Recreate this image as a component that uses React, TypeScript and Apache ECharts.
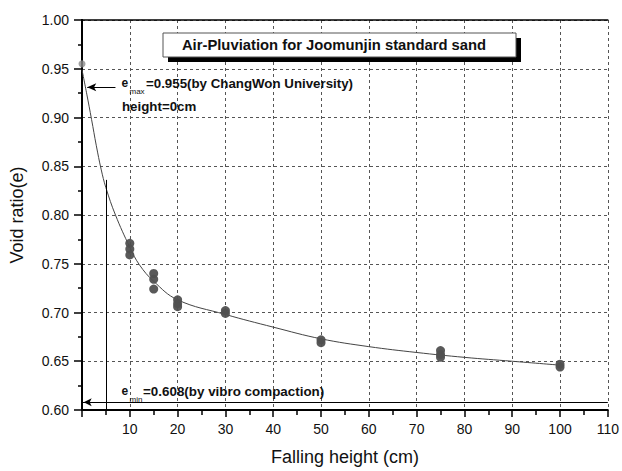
import React, { useEffect, useRef } from "react";
import * as echarts from "echarts";

const heights = [10, 10, 10, 15, 15, 15, 20, 20, 20, 30, 30, 50, 50, 75, 75, 75, 100, 100];
const voidRatios = [0.771, 0.765, 0.759, 0.740, 0.734, 0.724, 0.713, 0.709, 0.706, 0.702, 0.699, 0.672, 0.669, 0.661, 0.657, 0.654, 0.647, 0.644];

const eMaxPoint = [0, 0.955];
const eMin = 0.608;

const curveX = [0, 1, 2, 3, 4, 5, 7, 10, 12, 15, 20, 30, 40, 50, 60, 70, 80, 90, 100];
const curveY = [0.949, 0.924, 0.898, 0.871, 0.847, 0.828, 0.800, 0.767, 0.749, 0.732, 0.713, 0.698, 0.685, 0.673, 0.665, 0.659, 0.654, 0.650, 0.646];

const xTicks = { min: 0, max: 110, interval: 10 };
const yTicks = { min: 0.6, max: 1.0, interval: 0.05 };

const titleText = "Air-Pluviation for Joomunjin standard sand";
const xName = "Falling height (cm)";
const yName = "Void ratio(e)";

export default function App() {
  const ref = useRef<HTMLDivElement>(null);
  useEffect(() => {
    if (!ref.current) return;
    const chart = echarts.init(ref.current, null, { renderer: "svg" });
    const font = "Liberation Sans, Arial, sans-serif";
    const bold = { fontFamily: font, fontWeight: "bold" as const, fill: "#111" };
    chart.setOption({
      animation: false,
      backgroundColor: "#fff",
      grid: { left: 79, right: 14, top: 20, bottom: 61, containLabel: false },
      xAxis: [
        {
          type: "value",
          min: xTicks.min,
          max: xTicks.max,
          interval: xTicks.interval,
          name: xName,
          nameLocation: "middle",
          nameGap: 38,
          nameTextStyle: { fontFamily: font, fontSize: 18, color: "#111" },
          axisLine: { show: true, onZero: false, lineStyle: { color: "#000", width: 2 } },
          axisTick: { show: true, inside: false, length: 7, lineStyle: { color: "#000", width: 1.5 } },
          minorTick: { show: true, splitNumber: 2, length: 5, lineStyle: { color: "#000", width: 1.5 } },
          axisLabel: {
            fontFamily: font,
            fontSize: 14,
            color: "#111",
            margin: 12,
            formatter: (v: number) => (v === 0 ? "" : String(v)),
          },
          splitLine: { show: true, lineStyle: { color: "#555", type: [3, 3], width: 1 } },
        },
        {
          type: "value",
          position: "top",
          min: xTicks.min,
          max: xTicks.max,
          axisLine: { show: true, lineStyle: { color: "#000", width: 1.5 } },
          axisTick: { show: false },
          axisLabel: { show: false },
          splitLine: { show: false },
        },
      ],
      yAxis: [
        {
          type: "value",
          min: yTicks.min,
          max: yTicks.max,
          interval: yTicks.interval,
          name: yName,
          nameLocation: "middle",
          nameGap: 56,
          nameTextStyle: { fontFamily: font, fontSize: 18, color: "#111" },
          axisLine: { show: true, onZero: false, lineStyle: { color: "#000", width: 2 } },
          axisTick: { show: true, inside: false, length: 8, lineStyle: { color: "#000", width: 1.5 } },
          minorTick: { show: true, splitNumber: 2, length: 4, lineStyle: { color: "#000", width: 1.5 } },
          axisLabel: {
            fontFamily: font,
            fontSize: 14,
            color: "#111",
            margin: 13,
            formatter: (v: number) => v.toFixed(2),
          },
          splitLine: { show: true, lineStyle: { color: "#555", type: [3, 3], width: 1 } },
        },
        {
          type: "value",
          position: "right",
          min: yTicks.min,
          max: yTicks.max,
          axisLine: { show: true, lineStyle: { color: "#000", width: 2 } },
          axisTick: { show: false },
          axisLabel: { show: false },
          splitLine: { show: false },
        },
      ],
      series: [
        {
          type: "line",
          data: curveX.map((x, i) => [x, curveY[i]]),
          smooth: 0.4,
          showSymbol: false,
          symbol: "none",
          lineStyle: { color: "#444", width: 1 },
          silent: true,
          z: 2,
          markLine: {
            silent: true,
            animation: false,
            label: { show: false },
            symbol: ["none", "none"],
            lineStyle: { color: "#000", width: 1, type: "solid" },
            data: [
              [{ coord: [0, eMin] }, { coord: [110, eMin] }],
              [{ coord: [5, 0.836] }, { coord: [5, 0.6] }],
              [
                { coord: [7, 0.931], symbol: "none" },
                { coord: [1.1, 0.931], symbol: "arrow", symbolSize: [6, 9] },
              ],
              [
                { coord: [2, eMin], symbol: "none" },
                { coord: [0.35, eMin], symbol: "arrow", symbolSize: [6, 8] },
              ],
            ],
          },
        },
        {
          type: "scatter",
          data: heights.map((h, i) => [h, voidRatios[i]]),
          symbolSize: 9,
          itemStyle: { color: "#505050", opacity: 0.95 },
          z: 3,
        },
        {
          type: "scatter",
          data: [eMaxPoint],
          symbolSize: 7,
          itemStyle: { color: "#8a8a8a" },
          z: 3,
        },
      ],
      graphic: [
        { type: "rect", shape: { x: 168, y: 38, width: 353, height: 24 }, style: { fill: "#000" }, z: 10 },
        { type: "rect", shape: { x: 163, y: 33, width: 353, height: 24 }, style: { fill: "#fff", stroke: "#555", lineWidth: 1 }, z: 11 },
        {
          type: "text",
          x: 334,
          y: 45,
          z: 12,
          style: { ...bold, text: titleText, fontSize: 14.8, align: "center", verticalAlign: "middle" },
        },
        { type: "text", x: 121.5, y: 83, z: 12, style: { ...bold, text: "e", fontSize: 12, verticalAlign: "middle" } },
        { type: "text", x: 129.5, y: 91, z: 12, style: { fontFamily: font, fill: "#111", text: "max", fontSize: 8, verticalAlign: "middle" } },
        { type: "text", x: 146, y: 83, z: 12, style: { ...bold, text: "=0.955(by ChangWon University)", fontSize: 13.3, verticalAlign: "middle" } },
        { type: "text", x: 122, y: 106, z: 12, style: { ...bold, text: "height=0cm", fontSize: 13.3, verticalAlign: "middle" } },
        { type: "text", x: 121.5, y: 391, z: 12, style: { ...bold, text: "e", fontSize: 12, verticalAlign: "middle" } },
        { type: "text", x: 129.5, y: 399, z: 12, style: { fontFamily: font, fill: "#111", text: "min", fontSize: 8, verticalAlign: "middle" } },
        { type: "text", x: 143, y: 391, z: 12, style: { ...bold, text: "=0.608(by vibro compaction)", fontSize: 13.4, verticalAlign: "middle" } },
      ],
    });
    return () => chart.dispose();
  }, []);
  return <div ref={ref} style={{ position: "absolute", left: 0, top: 0, width: 622, height: 471 }} />;
}
